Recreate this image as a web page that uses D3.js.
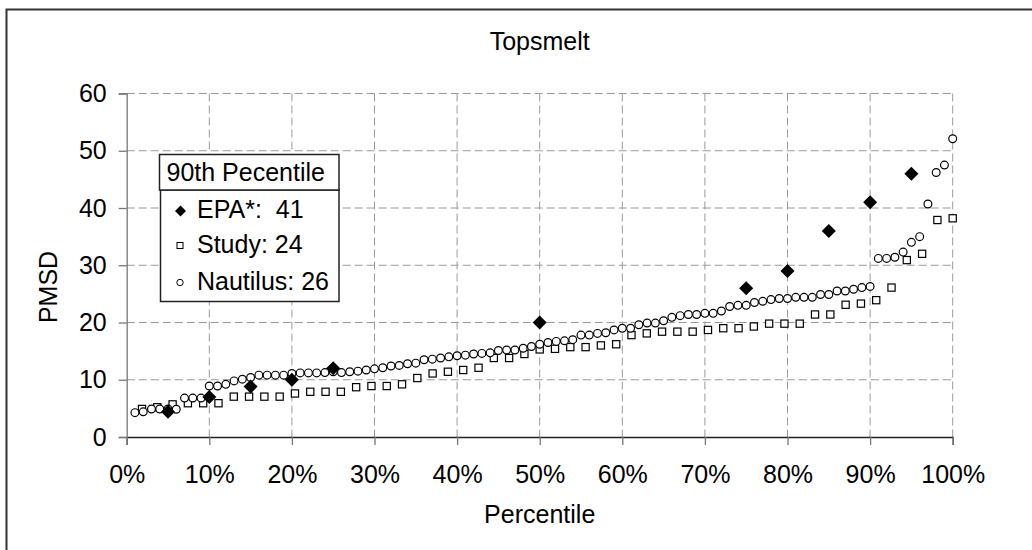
<!DOCTYPE html>
<html>
<head>
<meta charset="utf-8">
<script src="https://cdn.jsdelivr.net/npm/d3@7"></script>
<style>
  body { margin: 0; background: #fff; }
  svg { display: block; font-family: "Liberation Sans", Arial, sans-serif; }
</style>
</head>
<body>
<svg width="1032" height="550"></svg>
<script>
// EPA points sit on fixed percentiles
var epaPct = [5, 10, 15, 20, 25, 50, 75, 80, 85, 90, 95];
var epaVal = [4.4, 7, 8.8, 10, 12, 20, 26, 29, 36, 41, 46];

// study: 54 ranked values
var studyVal = [4.9, 5.2, 5.7, 5.9, 5.9, 5.9, 7.05, 7.05, 7.05, 7.05,
  7.6, 7.9, 7.9, 7.9, 8.7, 8.9, 8.9, 9.2, 10.3, 11.1,
  11.4, 11.7, 12.1, 13.8, 13.8, 14.5, 15.3, 15.4, 15.7, 15.7,
  16.0, 16.2, 17.8, 18.1, 18.4, 18.4, 18.4, 18.7, 19.0, 19.0,
  19.3, 19.8, 19.8, 19.8, 21.4, 21.4, 23.1, 23.3, 23.9, 26.1,
  30.9, 32.0, 37.9, 38.2];

// nautilus: 100 ranked values
var nautilusVal = [4.25, 4.4, 4.9, 4.9, 4.9, 4.85, 6.8, 6.8, 6.8, 8.9,
  8.9, 9.2, 9.8, 10.1, 10.4, 10.8, 10.8, 10.8, 10.8, 11.1,
  11.2, 11.2, 11.2, 11.25, 11.4, 11.25, 11.4, 11.5, 11.7, 11.9,
  12.1, 12.4, 12.5, 12.8, 12.9, 13.5, 13.6, 13.8, 14.0, 14.2,
  14.3, 14.5, 14.6, 14.7, 15.1, 15.2, 15.2, 15.5, 15.8, 16.2,
  16.5, 16.7, 16.8, 17.0, 17.8, 17.8, 18.1, 18.2, 18.7, 19.0,
  19.0, 19.6, 19.9, 19.9, 20.3, 20.9, 21.2, 21.4, 21.4, 21.6,
  21.6, 22.0, 22.8, 23.0, 23.0, 23.5, 23.7, 24.0, 24.2, 24.2,
  24.4, 24.4, 24.4, 24.9, 24.9, 25.5, 25.5, 25.8, 26.1, 26.3,
  31.2, 31.2, 31.4, 32.3, 34.0, 35.0, 40.7, 46.2, 47.5, 52.1];

var xTicks = [0, 10, 20, 30, 40, 50, 60, 70, 80, 90, 100];
var yTicks = [0, 10, 20, 30, 40, 50, 60];

var legendTitle = "90th Pecentile";
var legendItems = ["EPA*:  41", "Study: 24", "Nautilus: 26"];

var svg = d3.select("svg");

// careful: "top" is a read-only global in the browser
var plotLeft = 126.7, plotRight = 952.7, plotTop = 93.5, plotBottom = 437;
var fontSize = "25px";

var x = d3.scaleLinear().domain([0, 100]).range([plotLeft, plotRight]);
var y = d3.scaleLinear().domain([0, 60]).range([plotBottom, plotTop]);

// outer frame (only top and left show in the picture)
svg.append("rect")
  .attr("x", 6.5).attr("y", 9.5)
  .attr("width", 1100).attr("height", 600)
  .attr("fill", "none")
  .attr("stroke", "#333")
  .attr("stroke-width", 2);

svg.append("text")
  .attr("x", (plotLeft + plotRight) / 2)
  .attr("y", 50)
  .attr("text-anchor", "middle")
  .style("font-size", fontSize)
  .text("Topsmelt");

// gridlines
var grid = svg.append("g").attr("class", "grid")
  .attr("stroke", "#9a9a9a")
  .attr("stroke-dasharray", "8,4");

grid.selectAll("line.h")
  .data(yTicks.slice(1))
  .enter().append("line")
  .attr("class", "h")
  .attr("x1", plotLeft).attr("x2", plotRight)
  .attr("y1", function(d) { return y(d); })
  .attr("y2", function(d) { return y(d); });

grid.selectAll("line.v")
  .data(xTicks.slice(1))
  .enter().append("line")
  .attr("class", "v")
  .attr("y1", plotTop).attr("y2", plotBottom)
  .attr("x1", function(d) { return x(d); })
  .attr("x2", function(d) { return x(d); });

// axes
var xAxis = svg.append("g")
  .attr("transform", "translate(0," + plotBottom + ")")
  .call(d3.axisBottom(x).tickValues(xTicks).tickSize(8).tickPadding(20)
    .tickFormat(function(d) { return d + "%"; }));

var yAxis = svg.append("g")
  .attr("transform", "translate(" + plotLeft + ",0)")
  .call(d3.axisLeft(y).tickValues(yTicks).tickSize(8).tickPadding(12));

xAxis.select(".domain").attr("stroke", "#222").attr("stroke-width", 1.3);
yAxis.select(".domain").attr("stroke", "#777").attr("stroke-width", 1.3);
svg.selectAll(".tick line").attr("stroke", "#777").attr("stroke-width", 1.3);
svg.selectAll(".tick text")
  .attr("fill", "#000")
  .style("font-size", fontSize)
  .style("font-family", "'Liberation Sans', Arial, sans-serif");

svg.append("text")
  .attr("x", (plotLeft + plotRight) / 2)
  .attr("y", 523)
  .attr("text-anchor", "middle")
  .style("font-size", fontSize)
  .text("Percentile");

svg.append("text")
  .attr("transform", "translate(57,287) rotate(-90)")
  .attr("text-anchor", "middle")
  .style("font-size", fontSize)
  .text("PMSD");

// series
svg.append("g").selectAll("rect")
  .data(studyVal)
  .enter().append("rect")
  .attr("x", function(d, i) { return x((i + 1) / studyVal.length * 100) - 3.6; })
  .attr("y", function(d) { return y(d) - 3.6; })
  .attr("width", 7.2).attr("height", 7.2)
  .attr("fill", "#fff")
  .attr("stroke", "#000")
  .attr("stroke-width", 1.2);

svg.append("g").selectAll("circle")
  .data(nautilusVal)
  .enter().append("circle")
  .attr("cx", function(d, i) { return x((i + 1) / nautilusVal.length * 100); })
  .attr("cy", function(d) { return y(d); })
  .attr("r", 3.9)
  .attr("fill", "#fff")
  .attr("stroke", "#000")
  .attr("stroke-width", 1.2);

var diamond = "M0,-7L7,0L0,7L-7,0Z";

svg.append("g").selectAll("path")
  .data(epaVal)
  .enter().append("path")
  .attr("d", diamond)
  .attr("transform", function(d, i) { return "translate(" + x(epaPct[i]) + "," + y(d) + ")"; })
  .attr("fill", "#000");

// legend
var legend = svg.append("g").attr("class", "legend");

legend.append("rect")
  .attr("x", 160.5).attr("y", 190)
  .attr("width", 178.5).attr("height", 111.5)
  .attr("fill", "#fff")
  .attr("stroke", "#222")
  .attr("stroke-width", 1.5);

legend.append("rect")
  .attr("x", 159.5).attr("y", 154.5)
  .attr("width", 179.5).attr("height", 35.5)
  .attr("fill", "#fff")
  .attr("stroke", "#222")
  .attr("stroke-width", 1.5);

legend.append("text")
  .attr("x", 166.5).attr("y", 181)
  .style("font-size", fontSize)
  .text(legendTitle);

var itemY = [211, 245.5, 282.5];

legend.selectAll("text.item")
  .data(legendItems)
  .enter().append("text")
  .attr("class", "item")
  .attr("x", 197)
  .attr("y", function(d, i) { return itemY[i] + 7; })
  .style("font-size", fontSize)
  .style("white-space", "pre")
  .attr("xml:space", "preserve")
  .text(function(d) { return d; });

legend.append("path")
  .attr("d", "M0,-5.5L5.5,0L0,5.5L-5.5,0Z")
  .attr("transform", "translate(180.5," + itemY[0] + ")")
  .attr("fill", "#000");

legend.append("rect")
  .attr("x", 177).attr("y", itemY[1] - 3)
  .attr("width", 6).attr("height", 6)
  .attr("fill", "#fff").attr("stroke", "#000").attr("stroke-width", 1);

legend.append("circle")
  .attr("cx", 180).attr("cy", itemY[2])
  .attr("r", 3.2)
  .attr("fill", "#fff").attr("stroke", "#000").attr("stroke-width", 1);
</script>
</body>
</html>
